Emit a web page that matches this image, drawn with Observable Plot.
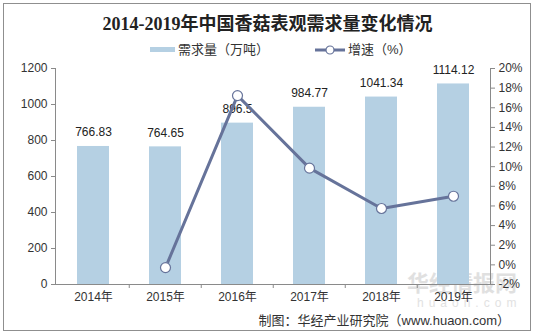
<!DOCTYPE html>
<html><head><meta charset="utf-8">
<script src="https://cdn.jsdelivr.net/npm/d3@7"></script>
<script src="https://cdn.jsdelivr.net/npm/@observablehq/plot@0.6"></script>
<style>
body{margin:0;width:535px;height:336px;position:relative;background:#fff;overflow:hidden;font-family:"Liberation Sans",Arial,"Noto Sans CJK SC",sans-serif;color:#333;}
.abs{position:absolute;white-space:nowrap;}
#frame{left:3px;top:3px;width:526px;height:326px;border:1px solid #8f8f8f;}
#title{left:0;top:12px;width:535px;text-align:center;font:bold 18px/24px "Liberation Serif","Noto Sans CJK SC",serif;color:#222;}
.leg{top:41px;font-size:13px;line-height:18px;color:#333;}
#chart{left:0;top:60px;}
#footer{right:25px;top:312px;font-size:13px;line-height:18px;color:#333;}
#wm1{left:407px;top:268px;font:bold 22px/26px "Noto Sans CJK SC",sans-serif;color:#d4d4d4;opacity:.7;}
#wm2{left:417px;top:297px;font:12px/13px "Liberation Sans",sans-serif;letter-spacing:5px;color:#e2e2e2;}
</style></head>
<body>
<div id="frame" class="abs"></div>
<div id="title" class="abs">2014-2019年中国香菇表观需求量变化情况</div>
<div class="abs leg" style="left:150px;"><span style="display:inline-block;width:25px;height:5px;background:#b5d0e3;vertical-align:middle;margin-right:3px;position:relative;top:-1px"></span>需求量（万吨）</div>
<div class="abs leg" style="left:315px;"><svg width="30" height="10" style="vertical-align:middle;margin-right:3px;position:relative;top:-1px"><line x1="0" y1="5" x2="30" y2="5" stroke="#66739a" stroke-width="3"/><circle cx="15" cy="5" r="4" fill="#fff" stroke="#66739a" stroke-width="1.2"/></svg>增速（%）</div>
<div id="wm1" class="abs">华经情报网</div>
<div id="wm2" class="abs">huaon.com</div>
<div id="chart" class="abs"></div>
<div id="footer" class="abs">制图：华经产业研究院（www.huaon.com）</div>
<script>
const years = ["2014年","2015年","2016年","2017年","2018年","2019年"];
const demand = [766.83, 764.65, 896.5, 984.77, 1041.34, 1114.12];
const growthYears = ["2015年","2016年","2017年","2018年","2019年"];
const growth = [-0.28, 17.24, 9.85, 5.74, 6.99];
const leftTicks = [0, 200, 400, 600, 800, 1000, 1200];
const rightTicks = [-2, 0, 2, 4, 6, 8, 10, 12, 14, 16, 18, 20];

const leftMax = leftTicks[leftTicks.length - 1];
const gMin = rightTicks[0], gMax = rightTicks[rightTicks.length - 1];
const toLeft = g => (g - gMin) / (gMax - gMin) * leftMax;
const rLabel = new Map(rightTicks.map(t => [toLeft(t), t + "%"]));

const bars = years.map((y, i) => ({year: y, v: demand[i]}));
const gr = growthYears.map((y, i) => ({year: y, g: growth[i]}));

const W = 535, H = 250, mL = 55, mR = 45;
const step = (W - mL - mR) / years.length;
const lineColor = "#66739a";
const axisColor = "#8a8a8a";

const chart = Plot.plot({
  width: W, height: H,
  marginTop: 8, marginBottom: 26, marginLeft: mL, marginRight: mR,
  style: {fontFamily: '"Liberation Sans", Arial, "Noto Sans CJK SC", sans-serif', fontSize: "12px", color: "#333", background: "transparent"},
  x: {type: "band", domain: years, paddingInner: 0.56, paddingOuter: 0.28, axis: null},
  y: {domain: [0, leftMax], axis: null},
  marks: [
    Plot.barY(bars, {x: "year", y: "v", fill: "#b5d0e3"}),
    Plot.frame({anchor: "left", stroke: axisColor}),
    Plot.frame({anchor: "right", stroke: axisColor}),
    Plot.ruleY([0], {stroke: axisColor}),
    Plot.ruleX(years.slice(1), {x: d => d, dx: -step / 2, y1: 0, y2: 0, insetBottom: -4, stroke: axisColor}),
    Plot.axisY(leftTicks, {anchor: "left", label: null, tickSize: 4, tickPadding: 4, stroke: axisColor, fill: "#333", fontSize: 12, tickFormat: d => String(d)}),
    Plot.axisY(rightTicks.map(toLeft), {anchor: "right", label: null, tickSize: 4, tickPadding: 4, stroke: axisColor, fill: "#333", fontSize: 12, tickFormat: d => rLabel.get(d)}),
    Plot.axisX(years, {anchor: "bottom", label: null, tickSize: 0, tickPadding: 8, fill: "#333", fontSize: 12}),
    Plot.text(bars, {x: "year", y: "v", text: d => String(d.v), dy: -14, fill: "#222", fontSize: 12}),
    Plot.line(gr, {x: "year", y: d => toLeft(d.g), stroke: lineColor, strokeWidth: 3}),
    Plot.dot(gr, {x: "year", y: d => toLeft(d.g), r: 5, fill: "#fff", stroke: lineColor, strokeWidth: 1.2})
  ]
});
document.getElementById("chart").appendChild(chart);
</script>
</body></html>
